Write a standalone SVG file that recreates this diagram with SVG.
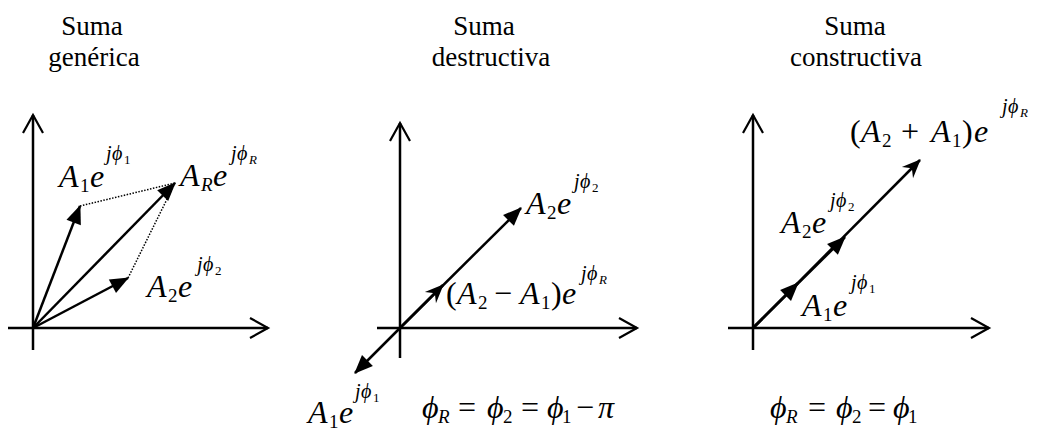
<svg xmlns="http://www.w3.org/2000/svg" width="1039" height="432" viewBox="0 0 1039 432">
<style>
.title{font-family:"Liberation Serif","Times New Roman",serif;font-size:27px;fill:#000;text-anchor:middle}
.m{font-family:"Liberation Serif","DejaVu Serif",serif;font-style:italic;font-size:32px;fill:#000}
.sb{font-size:19px}
.s{font-family:"Liberation Serif","DejaVu Serif",serif;font-style:italic;font-size:20px;fill:#000}
.ss{font-size:13px}
.up{font-style:normal}
.ax{stroke:#000;stroke-width:2.5;fill:none}
.ah{stroke:#000;stroke-width:2.2;fill:none}
.vec{stroke:#000;stroke-width:2.5;fill:none}
.dot{stroke:#000;stroke-width:1.5;stroke-dasharray:1.5 1.5;fill:none}
</style>
<defs>
<marker id="tri" markerUnits="userSpaceOnUse" markerWidth="22" markerHeight="20" viewBox="-18 -9 20 18" refX="0" refY="0" orient="auto">
<path d="M1,0 L-16,-7 L-16,7 z" fill="#000"/>
</marker>
<marker id="stl" markerUnits="userSpaceOnUse" markerWidth="22" markerHeight="20" viewBox="-19 -9 21 18" refX="0" refY="0" orient="auto">
<path d="M1,0 L-17,-7.5 L-11,0 L-17,7.5 z" fill="#000"/>
</marker>
</defs>

<g id="titles">
<text class="title" x="92" y="35">Suma</text>
<text class="title" x="94" y="66">genérica</text>
<text class="title" x="484" y="35">Suma</text>
<text class="title" x="491" y="66">destructiva</text>
<text class="title" x="855" y="35">Suma</text>
<text class="title" x="856" y="66">constructiva</text>
</g>

<g id="axes1">
<line class="ax" x1="33" y1="115" x2="33" y2="350"/>
<polyline class="ah" points="23,133 33,115 43,133"/>
<line class="ax" x1="8" y1="328" x2="268" y2="328"/>
<polyline class="ah" points="250,318 268,328 250,338"/>
</g>
<g id="axes2">
<line class="ax" x1="400" y1="123" x2="400" y2="358"/>
<polyline class="ah" points="390,141 400,123 410,141"/>
<line class="ax" x1="377" y1="328" x2="637" y2="328"/>
<polyline class="ah" points="619,318 637,328 619,338"/>
</g>
<g id="axes3">
<line class="ax" x1="753" y1="115" x2="753" y2="350"/>
<polyline class="ah" points="743,133 753,115 763,133"/>
<line class="ax" x1="728" y1="328" x2="989" y2="328"/>
<polyline class="ah" points="971,318 989,328 971,338"/>
</g>

<g id="connectors">
<line class="dot" x1="80" y1="206" x2="175" y2="183"/>
<line class="dot" x1="128" y1="278" x2="175" y2="183"/>
<line class="vec" x1="33" y1="328" x2="80" y2="206" marker-end="url(#tri)"/>
<line class="vec" x1="33" y1="328" x2="175" y2="183" marker-end="url(#tri)"/>
<line class="vec" x1="33" y1="328" x2="128" y2="278" marker-end="url(#tri)"/>

<line class="vec" x1="400" y1="328" x2="521" y2="208" marker-end="url(#tri)"/>
<line class="vec" x1="400" y1="328" x2="443" y2="285" marker-end="url(#stl)"/>
<line class="vec" x1="400" y1="328" x2="355" y2="373" marker-end="url(#tri)"/>

<line class="vec" x1="753" y1="328" x2="920" y2="160" marker-end="url(#stl)"/>
<line class="vec" x1="753" y1="328" x2="845" y2="237" marker-end="url(#tri)"/>
<line class="vec" x1="753" y1="328" x2="798" y2="283" marker-end="url(#tri)"/>
</g>

<g id="label-A1-p1">
<text class="m" y="187"><tspan x="59">A</tspan><tspan class="up sb" x="80" dy="5">1</tspan><tspan x="90" dy="-5">e</tspan></text>
<text class="s" y="160"><tspan x="106">j</tspan><tspan x="112">&#x3D5;</tspan><tspan class="up ss" x="124" dy="4">1</tspan></text>
</g>
<g id="label-AR-p1">
<text class="m" y="186"><tspan x="180">A</tspan><tspan class="sb" x="201" dy="5">R</tspan><tspan x="213" dy="-5">e</tspan></text>
<text class="s" y="160"><tspan x="231">j</tspan><tspan x="237">&#x3D5;</tspan><tspan class="ss" x="249" dy="4">R</tspan></text>
</g>
<g id="label-A2-p1">
<text class="m" y="297"><tspan x="147">A</tspan><tspan class="up sb" x="168" dy="5">2</tspan><tspan x="178" dy="-5">e</tspan></text>
<text class="s" y="271"><tspan x="197">j</tspan><tspan x="203">&#x3D5;</tspan><tspan class="up ss" x="215" dy="4">2</tspan></text>
</g>

<g id="label-A2-p2">
<text class="m" y="214"><tspan x="526">A</tspan><tspan class="up sb" x="547" dy="5">2</tspan><tspan x="557" dy="-5">e</tspan></text>
<text class="s" y="188"><tspan x="574">j</tspan><tspan x="580">&#x3D5;</tspan><tspan class="up ss" x="592" dy="4">2</tspan></text>
</g>
<g id="label-diff-p2">
<text class="m" y="304"><tspan class="up" x="446">(</tspan><tspan x="457">A</tspan><tspan class="up sb" x="478" dy="5">2</tspan><tspan class="up" x="494" dy="-5">−</tspan><tspan x="520">A</tspan><tspan class="up sb" x="541" dy="5">1</tspan><tspan class="up" x="551" dy="-5">)</tspan><tspan x="562">e</tspan></text>
<text class="s" y="280"><tspan x="581">j</tspan><tspan x="587">&#x3D5;</tspan><tspan class="ss" x="599" dy="4">R</tspan></text>
</g>
<g id="label-A1-p2">
<text class="m" y="423"><tspan x="308">A</tspan><tspan class="up sb" x="329" dy="5">1</tspan><tspan x="339" dy="-5">e</tspan></text>
<text class="s" y="398"><tspan x="355">j</tspan><tspan x="361">&#x3D5;</tspan><tspan class="up ss" x="373" dy="4">1</tspan></text>
</g>
<g id="eq-p2">
<text class="m" y="418"><tspan x="422">&#x3D5;</tspan><tspan class="sb" x="438" dy="5">R</tspan><tspan class="up" x="458" dy="-5">=</tspan><tspan x="487">&#x3D5;</tspan><tspan class="up sb" x="503" dy="5">2</tspan><tspan class="up" x="521" dy="-5">=</tspan><tspan x="547">&#x3D5;</tspan><tspan class="up sb" x="562" dy="5">1</tspan><tspan class="up" x="576" dy="-5">−</tspan><tspan x="598">π</tspan></text>
</g>

<g id="label-sum-p3">
<text class="m" y="142"><tspan class="up" x="850">(</tspan><tspan x="861">A</tspan><tspan class="up sb" x="882" dy="5">2</tspan><tspan class="up" x="901" dy="-5">+</tspan><tspan x="931">A</tspan><tspan class="up sb" x="952" dy="5">1</tspan><tspan class="up" x="962" dy="-5">)</tspan><tspan x="974">e</tspan></text>
<text class="s" y="113"><tspan x="1002">j</tspan><tspan x="1008">&#x3D5;</tspan><tspan class="ss" x="1020" dy="4">R</tspan></text>
</g>
<g id="label-A2-p3">
<text class="m" y="233"><tspan x="781">A</tspan><tspan class="up sb" x="802" dy="5">2</tspan><tspan x="812" dy="-5">e</tspan></text>
<text class="s" y="207"><tspan x="830">j</tspan><tspan x="836">&#x3D5;</tspan><tspan class="up ss" x="848" dy="4">2</tspan></text>
</g>
<g id="label-A1-p3">
<text class="m" y="316"><tspan x="802">A</tspan><tspan class="up sb" x="823" dy="5">1</tspan><tspan x="833" dy="-5">e</tspan></text>
<text class="s" y="289"><tspan x="851">j</tspan><tspan x="857">&#x3D5;</tspan><tspan class="up ss" x="869" dy="4">1</tspan></text>
</g>
<g id="eq-p3">
<text class="m" y="418"><tspan x="770">&#x3D5;</tspan><tspan class="sb" x="786" dy="5">R</tspan><tspan class="up" x="808" dy="-5">=</tspan><tspan x="836">&#x3D5;</tspan><tspan class="up sb" x="852" dy="5">2</tspan><tspan class="up" x="868" dy="-5">=</tspan><tspan x="893">&#x3D5;</tspan><tspan class="up sb" x="908" dy="5">1</tspan></text>
</g>
</svg>
